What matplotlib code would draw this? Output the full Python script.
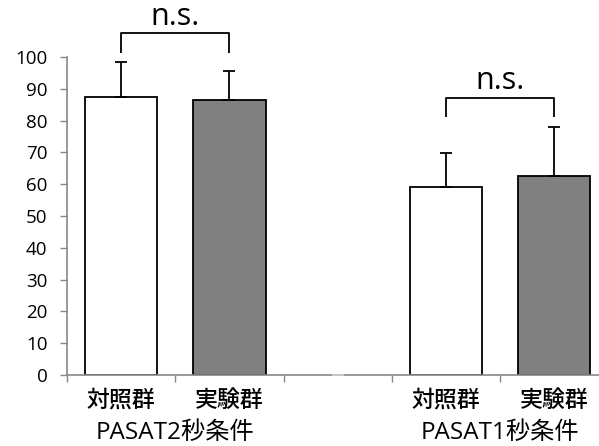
import numpy as np
import matplotlib
matplotlib.use('Agg')
import matplotlib.pyplot as plt
import matplotlib.transforms as transforms

plt.rcParams['font.family'] = ['Open Sans', 'Noto Sans CJK JP', 'DejaVu Sans']

groups = ['対照群', '実験群', '', '対照群', '実験群']
conditions = ['PASAT2秒条件', 'PASAT1秒条件']
means = [87.5, 86.5, 0.0, 59.2, 62.5]
sds = [10.8, 9.0, 0.0, 10.5, 15.5]
colors = ['white', '#808080', 'white', 'white', '#808080']
# pairs compared, with bracket height and leg bottom
pairs = [(0, 1, 107.4, 101.3), (3, 4, 87.2, 81.2)]

W, H = 599, 446
fig = plt.figure(figsize=(W / 100, H / 100), dpi=100)
ax = fig.add_axes([67 / W, 71 / H, 541.5 / W, 318 / H])

x = np.arange(len(groups))
edges = ['black' if m > 0 else 'none' for m in means]
ax.bar(x, means, width=0.667, color=colors, edgecolor=edges, linewidth=1.3, zorder=2)

for xi, m, s in zip(x, means, sds):
    ec = 'black' if m > 0 else '#c8c8c8'
    ax.errorbar(xi, m, yerr=[[0], [s]], fmt='none', ecolor=ec,
                elinewidth=1.3, capsize=4.5, capthick=1.3, zorder=3)

for a, b, top, leg in pairs:
    ax.plot([a, a, b, b], [leg, top, top, leg], color='black', lw=1.3,
            clip_on=False, solid_capstyle='butt')
    ax.text((a + b) / 2, top + 0.6, 'n.s.', ha='center', va='bottom',
            fontsize=22, clip_on=False)

ax.set_xlim(-0.5, len(groups) - 0.5)
ax.set_ylim(0, 100)
ax.set_yticks(np.arange(0, 101, 10))
ax.tick_params(axis='y', direction='out', length=5, width=1, color='#888888',
               labelsize=13.5, pad=9)

ax.set_xticks(x)
ax.set_xticklabels(groups, fontsize=16.5, fontweight='medium',
                   family=['Noto Sans CJK JP', 'DejaVu Sans'])
ax.set_xticks(np.arange(-0.5, len(groups), 1), minor=True)
ax.tick_params(axis='x', which='major', length=0, pad=10)
ax.tick_params(axis='x', which='minor', direction='out', length=5, width=1,
               color='#888888')

for side in ['top', 'right']:
    ax.spines[side].set_visible(False)
for side in ['left', 'bottom']:
    ax.spines[side].set_color('#888888')
    ax.spines[side].set_linewidth(1.2)

trans = transforms.blended_transform_factory(ax.transData, ax.transAxes)
for cx, label in zip([0.5, 3.5], conditions):
    ax.text(cx, -0.182, label, transform=trans, ha='center', va='center',
            fontsize=17.5)

fig.savefig('out.png', dpi=100)
